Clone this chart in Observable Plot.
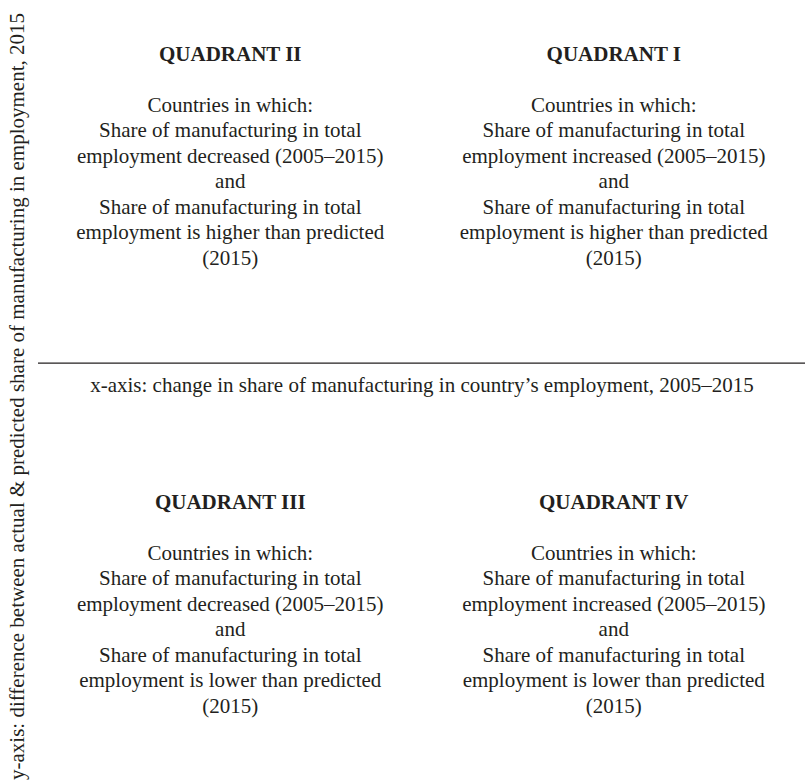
<!DOCTYPE html>
<html><head><meta charset="utf-8">
<script src="https://cdn.jsdelivr.net/npm/d3@7"></script>
<script src="https://cdn.jsdelivr.net/npm/@observablehq/plot@0.6"></script>
<style>body{margin:0;background:#fff}</style>
</head><body><div id="chart"></div>
<script>
// Conceptual quadrant diagram (no numeric data)
const quadrantNames = ["QUADRANT II", "QUADRANT I", "QUADRANT III", "QUADRANT IV"];
const quadrantX = [-1, 1, -1, 1];   // sign of change in manufacturing share
const quadrantY = [1, 1, -1, -1];   // sign of actual - predicted
const changeWords = ["decreased", "increased", "decreased", "increased"];
const levelWords = ["higher", "higher", "lower", "lower"];
const xAxisLabel = "x-axis: change in share of manufacturing in country’s employment, 2005–2015";
const yAxisLabel = "y-axis: difference between actual & predicted share of manufacturing in employment, 2015";

const quadrants = quadrantNames.map((name, i) => ({
  name,
  x: quadrantX[i],
  y: quadrantY[i] * 0.5,
  body: [
    "Countries in which:",
    "Share of manufacturing in total",
    `employment ${changeWords[i]} (2005–2015)`,
    "and",
    "Share of manufacturing in total",
    `employment is ${levelWords[i]} than predicted`,
    "(2015)"
  ].join("\n")
}));
const upper = quadrants.filter(d => d.y > 0);
const lower = quadrants.filter(d => d.y < 0);

const ink = "#231f20";
const font = "'Liberation Serif', 'Times New Roman', serif";
const fs = 21;
const lh = 1.214;

const chart = Plot.plot({
  width: 805,
  height: 782,
  marginLeft: 38,
  marginRight: 0,
  marginTop: 0,
  marginBottom: 0,
  style: {fontFamily: font, fontSize: fs + "px", color: ink, background: "#fff"},
  x: {domain: [-2, 2], axis: null},
  y: {domain: [-1.157, 1], axis: null},
  marks: [
    Plot.ruleY([0], {stroke: ink, strokeWidth: 1.3}),
    Plot.text([xAxisLabel], {x: 0, y: 0, text: d => d, dy: 22.5, fontSize: fs, fill: ink}),
    Plot.text([yAxisLabel], {frameAnchor: "left", textAnchor: "middle", rotate: -90, dx: -21, dy: 5, text: d => d, fontSize: fs, fill: ink}),
    Plot.text(upper, {x: "x", y: "y", text: "name", fontWeight: "bold", fontSize: fs, fill: ink, dy: -128}),
    Plot.text(lower, {x: "x", y: "y", text: "name", fontWeight: "bold", fontSize: fs, fill: ink, dy: -42}),
    Plot.text(upper, {x: "x", y: "y", text: "body", fontSize: fs, lineHeight: lh, fill: ink, dy: -1.5}),
    Plot.text(lower, {x: "x", y: "y", text: "body", fontSize: fs, lineHeight: lh, fill: ink, dy: 83.7})
  ]
});
document.getElementById("chart").appendChild(chart);
</script>
</body></html>
